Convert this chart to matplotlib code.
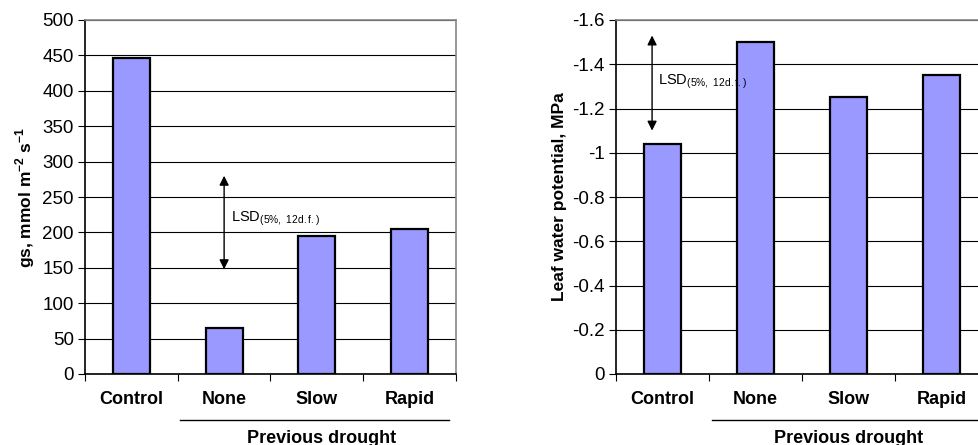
import matplotlib.pyplot as plt
import matplotlib.transforms as mtransforms
from matplotlib.ticker import FormatStrFormatter

plt.rcParams['font.family'] = ['Liberation Sans', 'DejaVu Sans']
plt.rcParams['mathtext.fontset'] = 'custom'
plt.rcParams['mathtext.rm'] = 'Liberation Sans'
plt.rcParams['mathtext.bf'] = 'Liberation Sans:bold'

categories = ['Control', 'None', 'Slow', 'Rapid']
gs_values = [447, 65, 195, 205]
lwp_values = [-1.04, -1.50, -1.25, -1.35]
group_label = 'Previous drought'
lsd_text = r'LSD$_{\mathrm{(5\%,\ 12d.f.)}}$'

bar_color = '#9999ff'

fig = plt.figure(figsize=(9.79, 4.45), dpi=100)
ax1 = fig.add_axes([85 / 979, 1 - 374 / 445, 371 / 979, 354 / 445])
ax2 = fig.add_axes([616 / 979, 1 - 374 / 445, 372 / 979, 354 / 445])


def style(ax):
    ax.set_xlim(-0.5, len(categories) - 0.5)
    ax.set_axisbelow(True)
    ax.yaxis.grid(True, color='black', lw=0.8)
    for side in ['top', 'right']:
        ax.spines[side].set_color('#888888')
        ax.spines[side].set_linewidth(1.2)
    ax.spines['left'].set_linewidth(1.2)
    ax.spines['bottom'].set_linewidth(1.2)
    ax.set_xticks([i - 0.5 for i in range(len(categories) + 1)])
    ax.set_xticklabels([])
    ax.tick_params(axis='x', direction='out', length=5, width=0.8)
    ax.tick_params(axis='y', direction='out', length=5, width=0.8, labelsize=13.5, pad=3)
    trans = mtransforms.blended_transform_factory(ax.transData, ax.transAxes)
    for i, c in enumerate(categories):
        ax.text(i, -0.073, c, transform=trans, ha='center', va='center',
                fontsize=13, fontweight='bold', clip_on=False)
    return trans


# left panel: stomatal conductance
t1 = style(ax1)
ax1.bar(range(len(categories)), gs_values, width=0.4, color=bar_color,
        edgecolor='black', linewidth=1.6, zorder=3)
ax1.set_ylim(0, 500)
ax1.set_yticks(range(0, 501, 50))
ax1.set_ylabel(r'gs, mmol m$^{\mathbf{-2}}$ s$^{\mathbf{-1}}$', fontsize=12.5,
               fontweight='bold', labelpad=4)
ax1.plot([0.52, 3.42], [-0.130, -0.130], color='black', lw=1, transform=t1, clip_on=False)
ax1.text(2.05, -0.183, group_label, transform=t1, ha='center', va='center',
         fontsize=13, fontweight='bold')
ax1.annotate('', xy=(1.0, 280), xytext=(1.0, 148),
             arrowprops=dict(arrowstyle='<|-|>', color='black', lw=1, mutation_scale=14,
                             shrinkA=0, shrinkB=0), zorder=4)
ax1.text(1.07, 219, lsd_text, fontsize=10.5, va='center', ha='left', zorder=4)

# right panel: leaf water potential
t2 = style(ax2)
ax2.bar(range(len(categories)), lwp_values, width=0.4, color=bar_color,
        edgecolor='black', linewidth=1.6, zorder=3)
ax2.set_ylim(0, -1.6)
ax2.set_yticks([0, -0.2, -0.4, -0.6, -0.8, -1.0, -1.2, -1.4, -1.6])
ax2.yaxis.set_major_formatter(FormatStrFormatter('%g'))
ax2.set_ylabel('Leaf water potential, MPa', fontsize=12.5, fontweight='bold', labelpad=4)
ax2.plot([0.53, 3.6], [-0.130, -0.130], color='black', lw=1, transform=t2, clip_on=False)
ax2.text(2.0, -0.183, group_label, transform=t2, ha='center', va='center',
         fontsize=13, fontweight='bold')
ax2.annotate('', xy=(-0.112, -1.53), xytext=(-0.112, -1.10),
             arrowprops=dict(arrowstyle='<|-|>', color='black', lw=1, mutation_scale=14,
                             shrinkA=0, shrinkB=0), zorder=4)
ax2.text(-0.05, -1.32, lsd_text, fontsize=10.5, va='center', ha='left', zorder=4)

fig.savefig('out.png', dpi=100)
